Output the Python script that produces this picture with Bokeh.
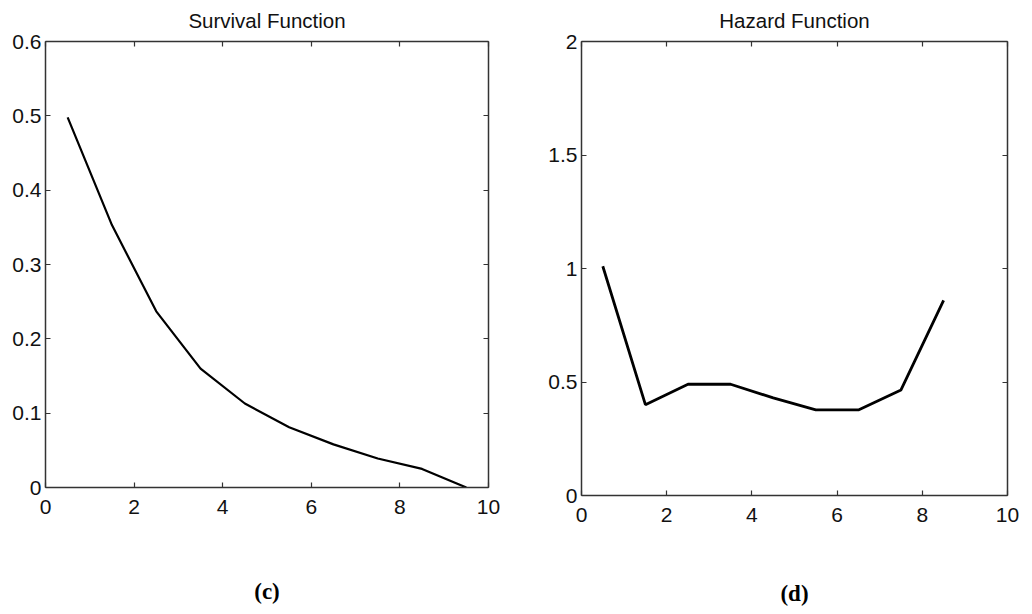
from bokeh.plotting import figure
from bokeh.layouts import row
from bokeh.models import Range1d, LinearAxis, FixedTicker, Title
from bokeh.embed import file_html
from bokeh.resources import INLINE

# ---- data ----
surv_t = [0.5, 1.5, 2.5, 3.5, 4.5, 5.5, 6.5, 7.5, 8.5, 9.5]
surv_s = [0.498, 0.353, 0.237, 0.160, 0.113, 0.081, 0.058, 0.039, 0.025, 0.0]

haz_t = [0.5, 1.5, 2.5, 3.5, 4.5, 5.5, 6.5, 7.5, 8.5]
haz_h = [1.01, 0.40, 0.49, 0.49, 0.43, 0.377, 0.377, 0.465, 0.86]

x_ticks = [0, 2, 4, 6, 8, 10]
x_labels = ["0", "2", "4", "6", "8", "10"]
surv_yticks = [0, 0.1, 0.2, 0.3, 0.4, 0.5, 0.6]
surv_ylabels = ["0", "0.1", "0.2", "0.3", "0.4", "0.5", "0.6"]
haz_yticks = [0, 0.5, 1, 1.5, 2]
haz_ylabels = ["0", "0.5", "1", "1.5", "2"]

titles = ["Survival Function", "Hazard Function"]
captions = ["(c)", "(d)"]

TICK_FONT = "Liberation Sans"
AX_COLOR = "#333333"
TXT_COLOR = "#111111"


def style_axis(ax, ticks, labels, standoff, size="21px"):
    ax.ticker = FixedTicker(ticks=ticks)
    ax.axis_line_color = AX_COLOR
    ax.axis_line_width = 1.5
    ax.major_tick_line_color = AX_COLOR
    ax.major_tick_line_width = 1.2
    ax.major_tick_in = 5
    ax.major_tick_out = 0
    ax.minor_tick_line_color = None
    ax.major_label_standoff = standoff
    ax.major_label_text_font = TICK_FONT
    ax.major_label_text_font_size = size
    ax.major_label_text_color = TXT_COLOR
    ax.major_label_overrides = dict(zip(ticks, labels))


def make_panel(xs, ys, yend, yticks, ylabels, title, caption,
               fw, fh, bl, bt, bb, br, lw, cap_standoff):
    p = figure(frame_width=fw, frame_height=fh,
               min_border_left=bl, min_border_top=bt,
               min_border_bottom=bb, min_border_right=br,
               x_range=Range1d(0, 10), y_range=Range1d(0, yend),
               output_backend="svg", toolbar_location=None,
               title=title)
    p.title.align = "center"
    p.title.vertical_align = "top"
    p.title.text_font = TICK_FONT
    p.title.text_font_size = "20.5px"
    p.title.text_font_style = "normal"
    p.title.text_color = TXT_COLOR
    p.title.standoff = 16
    p.grid.visible = False
    p.outline_line_color = None
    p.background_fill_color = "white"
    p.border_fill_color = "white"

    style_axis(p.xaxis[0], x_ticks, x_labels, 12)
    style_axis(p.yaxis[0], yticks, ylabels, 4)

    top = LinearAxis()
    right = LinearAxis()
    style_axis(top, x_ticks, [""] * len(x_ticks), 0, "1px")
    style_axis(right, yticks, [""] * len(yticks), 0, "1px")
    p.add_layout(top, "above")
    p.add_layout(right, "right")

    p.line(xs, ys, line_color="black", line_width=lw)

    cap = Title(text=caption, align="center", text_font="Liberation Serif",
                text_font_style="bold", text_font_size="23px",
                text_color="black", standoff=cap_standoff)
    p.add_layout(cap, "below")
    return p


p1 = make_panel(surv_t, surv_s, 0.6, surv_yticks, surv_ylabels, titles[0],
                captions[0], 443, 446, 45, 41, 125, 52, 2.2, 121)
p2 = make_panel(haz_t, haz_h, 2, haz_yticks, haz_ylabels, titles[1],
                captions[1], 426, 454, 41, 39, 119, 17, 2.8, 109)

layout = row(p1, p2)
open("out.html", "w").write(file_html(layout, INLINE))
